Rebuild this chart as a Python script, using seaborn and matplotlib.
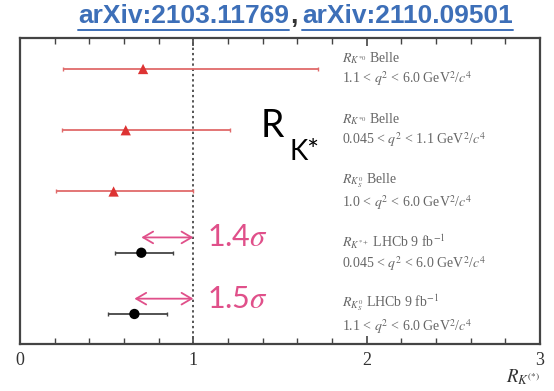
import matplotlib
matplotlib.use("Agg")
import matplotlib.pyplot as plt
import seaborn as sns
import pandas as pd
from matplotlib.lines import Line2D

sns.set_theme(style="white")
plt.rcParams["mathtext.fontset"] = "stix"
plt.rcParams["font.family"] = ["Liberation Serif", "DejaVu Serif"]

# Measurements: central value with asymmetric interval
labels = [
    "$R_{K^{*0}}$ Belle\n1.1 < $q^2$ < 6.0 GeV$^2$/$c^4$",
    "$R_{K^{*0}}$ Belle\n0.045 < $q^2$ < 1.1 GeV$^2$/$c^4$",
    "$R_{K^0_S}$ Belle\n1.0 < $q^2$ < 6.0 GeV$^2$/$c^4$",
    "$R_{K^{*+}}$ LHCb 9 fb$^{-1}$\n0.045 < $q^2$ < 6.0 GeV$^2$/$c^4$",
    "$R_{K^0_S}$ LHCb 9 fb$^{-1}$\n1.1 < $q^2$ < 6.0 GeV$^2$/$c^4$",
]
experiment = ["Belle", "Belle", "Belle", "LHCb", "LHCb"]
central = [0.71, 0.61, 0.54, 0.70, 0.66]
low = [0.25, 0.24, 0.21, 0.55, 0.51]
high = [1.72, 1.21, 1.00, 0.88, 0.85]
row = [0, 1, 2, 3, 4]

# Tension annotations for the LHCb results
sigma_rows = [3, 4]
sigma_text = ["1.4$\\sigma$", "1.5$\\sigma$"]
arrow_from = [0.70, 0.66]

df = pd.DataFrame({"row": row, "value": central, "low": low, "high": high,
                   "experiment": experiment})

W, H = 554, 391
fig = plt.figure(figsize=(W / 100, H / 100), dpi=100)
ax = fig.add_axes([20 / W, 1 - 344 / H, (540 - 20) / W, (344 - 38) / H])

bar_colors = {"Belle": "#e06a6a", "LHCb": "#444444"}
mark_colors = {"Belle": "#dd3333", "LHCb": "#000000"}
for exp, sub in df.groupby("experiment"):
    ax.errorbar(sub["value"], sub["row"],
                xerr=[sub["value"] - sub["low"], sub["high"] - sub["value"]],
                fmt="none", ecolor=bar_colors[exp], elinewidth=1.3,
                capsize=1.5, capthick=1.0, zorder=2)

sns.scatterplot(data=df, x="value", y="row", hue="experiment", style="experiment",
                palette=mark_colors, markers={"Belle": "^", "LHCb": "o"},
                s=55, edgecolor="none", legend=False, ax=ax, zorder=3)

ax.axvline(1.0, color="#555555", linestyle=(0, (1.2, 1.5)), linewidth=1.4, zorder=1)

ax.set_xlim(0, 3)
ax.set_ylim(4.49, -0.506)
ax.set_xticks([0, 1, 2, 3])
ax.set_xticks([i * 0.2 for i in range(16)], minor=True)
ax.set_yticks([])
ax.set_xlabel("")
ax.set_ylabel("")
ax.tick_params(axis="x", which="both", direction="in", top=True, bottom=True,
               colors="#444444", labelcolor="#333333", labelsize=13, pad=6)
ax.tick_params(axis="x", which="major", length=6, width=1.2)
ax.tick_params(axis="x", which="minor", length=4, width=1.0)
for s in ax.spines.values():
    s.set_color("#444444")
    s.set_linewidth(1.6)

# Measurement descriptions
for r, lab in zip(row, labels):
    ax.text(1.86, r + 0.0, lab, color="#666666", fontsize=10, va="center",
            ha="left", linespacing=1.25)

# Tension arrows and labels
pink = "#e0508a"
for r, x0, t in zip(sigma_rows, arrow_from, sigma_text):
    ya = r - 0.25
    ax.annotate("", xy=(1.0, ya), xytext=(x0, ya),
                arrowprops=dict(arrowstyle="<->,head_length=0.6,head_width=0.35",
                                color=pink, lw=1.3, shrinkA=0, shrinkB=0))
    ax.text(1.08, ya, t, color=pink, fontsize=22, va="center", ha="left",
            family=["Lato", "DejaVu Sans"])

fig.text(261 / W, 1 - 126 / H, "R", fontsize=27, color="black",
         family=["Lato", "DejaVu Sans"], va="center", ha="left")
fig.text(290 / W, 1 - 152 / H, "K*", fontsize=20, color="black",
         family=["Lato", "DejaVu Sans"], va="center", ha="left")

fig.text(523 / W, 1 - 377 / H, "$R_{K^{(*)}}$", fontsize=13.5, color="#333333",
         va="center", ha="center")

# Header with underlined references
blue = "#3d6fb8"
fs = 19
t1 = fig.text(78 / W, 1 - 16 / H, "arXiv:2103.11769", fontsize=fs, color=blue,
              weight="bold", family=["Liberation Sans", "DejaVu Sans"],
              va="center", ha="left")
fig.canvas.draw()
r = fig.canvas.get_renderer()
bb1 = t1.get_window_extent(r)
tc = fig.text(bb1.x1 / W + 1 / W, 1 - 16 / H, ",", fontsize=fs, color="#333333",
              weight="bold", family=["Liberation Sans", "DejaVu Sans"],
              va="center", ha="left")
bbc = tc.get_window_extent(r)
t2 = fig.text(bbc.x1 / W + 5 / W, 1 - 16 / H, "arXiv:2110.09501", fontsize=fs,
              color=blue, weight="bold", family=["Liberation Sans", "DejaVu Sans"],
              va="center", ha="left")
bb2 = t2.get_window_extent(r)
uy = 1 - 30 / H
for bb in (bb1, bb2):
    fig.add_artist(Line2D([bb.x0 / W, bb.x1 / W], [uy, uy], color=blue, lw=1.4,
                          transform=fig.transFigure))

fig.savefig("out.png", dpi=100)
